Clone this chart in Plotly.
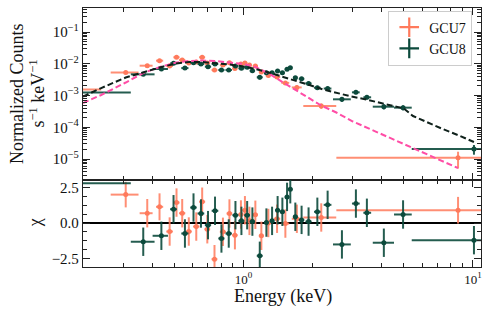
import plotly.graph_objects as go

# ---------------- GCU7 spectrum ----------------
e7 = [0.19, 0.307, 0.381, 0.431, 0.477, 0.511, 0.541, 0.578, 0.623, 0.661, 0.696, 0.748, 0.814,
      0.869, 0.918, 0.975, 1.015, 1.062, 1.127, 1.197, 1.284, 1.401, 1.523, 1.709, 2.183, 8.61]
e7_lo = [0.03, 0.043, 0.028, 0.015, 0.016, 0.016, 0.017, 0.018, 0.02, 0.02, 0.02, 0.022, 0.025,
         0.025, 0.025, 0.025, 0.025, 0.025, 0.03, 0.03, 0.035, 0.045, 0.06, 0.085, 0.36, 6.07]
e7_hi = [0.05, 0.042, 0.021, 0.016, 0.016, 0.016, 0.017, 0.018, 0.02, 0.02, 0.02, 0.022, 0.025,
         0.025, 0.025, 0.025, 0.025, 0.025, 0.03, 0.03, 0.035, 0.045, 0.06, 0.085, 0.354, 4.4]
c7 = [1.55e-3, 5.3e-3, 8.7e-3, 1.25e-2, 8.5e-3, 1.6e-2, 1.31e-2, 1.06e-2, 1.13e-2, 1.6e-2, 1.06e-2,
      6.35e-3, 9.1e-3, 1.08e-2, 7.1e-3, 9.8e-3, 1.06e-2, 9.1e-3, 8.5e-3, 5.5e-3, 4.3e-3, 3.85e-3,
      2.5e-3, 1.8e-3, 4.7e-4, 1.1e-5]
c7_err = [0.25e-3, 0.6e-3, 0.9e-3, 1.2e-3, 1.0e-3, 1.4e-3, 1.3e-3, 1.1e-3, 1.1e-3, 1.5e-3, 1.1e-3,
          0.8e-3, 1.0e-3, 1.1e-3, 0.9e-3, 1.0e-3, 1.1e-3, 1.0e-3, 1.0e-3, 0.7e-3, 0.55e-3, 0.5e-3,
          0.35e-3, 0.3e-3, 0.9e-4, 0.6e-5]
chi7 = [None, 2.0, 0.69, 1.14, -0.6, 1.44, 0.69, -0.6, -0.25, 1.5, -0.44, -2.55, -0.62, 0.67,
        -0.86, 0.6, 0.9, 0.15, 0.58, -0.9, 0.0, 0.3, -0.04, 0.3, 0.39, 0.9]
chi7_err = [0, 0.9, 1.0, 0.95, 1.0, 1.0, 1.0, 1.0, 1.0, 1.0, 1.0, 1.0, 1.0, 1.0,
            1.0, 1.0, 1.0, 1.0, 1.0, 1.0, 1.0, 1.0, 1.0, 1.0, 1.0, 0.94]

# ---------------- GCU8 spectrum ----------------
e8 = [0.185, 0.366, 0.439, 0.496, 0.556, 0.606, 0.653, 0.701, 0.752, 0.802, 0.863, 0.923, 0.980,
      1.038, 1.094, 1.178, 1.259, 1.333, 1.409, 1.478, 1.549, 1.600, 1.683, 1.792, 1.922, 2.099,
      2.327, 2.686, 3.09, 3.45, 4.09, 4.96, 10.1]
e8_lo = [0.035, 0.043, 0.037, 0.017, 0.02, 0.02, 0.022, 0.022, 0.025, 0.025, 0.028, 0.028, 0.03,
         0.03, 0.03, 0.035, 0.03, 0.03, 0.035, 0.035, 0.035, 0.035, 0.04, 0.05, 0.06, 0.07,
         0.09, 0.23, 0.12, 0.12, 0.43, 0.43, 4.69]
e8_hi = [0.138, 0.044, 0.030, 0.017, 0.02, 0.02, 0.022, 0.022, 0.025, 0.025, 0.028, 0.028, 0.03,
         0.03, 0.03, 0.035, 0.03, 0.03, 0.035, 0.035, 0.035, 0.035, 0.04, 0.05, 0.06, 0.07,
         0.09, 0.25, 0.12, 0.15, 0.44, 0.45, 3.0]
c8 = [1.24e-3, 4.65e-3, 6.85e-3, 1.03e-2, 7.3e-3, 1.08e-2, 9.8e-3, 8.1e-3, 9.8e-3, 6.35e-3, 6.35e-3,
      8.5e-3, 7.2e-3, 7.7e-3, 6.0e-3, 3.75e-3, 5.2e-3, 5.2e-3, 5.9e-3, 5.2e-3, 6.7e-3, 7.5e-3,
      3.65e-3, 3.35e-3, 2.4e-3, 1.76e-3, 1.66e-3, 7.6e-4, 1.26e-3, 8.8e-4, 4.45e-4, 4.15e-4, 2.07e-5]
c8_err = [0.15e-3, 0.5e-3, 0.7e-3, 1.0e-3, 0.8e-3, 1.0e-3, 0.95e-3, 0.85e-3, 0.95e-3, 0.75e-3,
          0.75e-3, 0.85e-3, 0.8e-3, 0.8e-3, 0.7e-3, 0.55e-3, 0.6e-3, 0.6e-3, 0.65e-3, 0.6e-3,
          0.7e-3, 0.75e-3, 0.45e-3, 0.4e-3, 0.32e-3, 0.25e-3, 0.22e-3, 1.3e-4, 1.6e-4, 1.3e-4,
          0.8e-4, 0.75e-4, 0.7e-5]
chi8 = [2.8, -1.32, -0.9, 0.97, -0.74, 1.09, 0.67, -0.15, 0.86, -1.09, -0.74, 0.55, 0.15, 0.55,
        0.1, -2.31, 0.03, 0.15, 0.9, 0.79, 1.84, 2.38, 0.44, 0.22, 0.1, 0.79, 1.28, -1.51, 1.37,
        0.72, -1.39, 0.6, -1.21]
chi8_err = [1.0, 1.0, 1.0, 1.0, 1.0, 1.0, 1.0, 1.0, 1.0, 1.0, 1.0, 1.0, 1.0, 1.0,
            1.0, 1.0, 1.0, 1.0, 1.0, 1.0, 1.0, 1.0, 1.0, 1.0, 1.0, 1.0, 1.0, 1.0,
            1.0, 1.0, 1.0, 1.0, 1.0]

# ---------------- best-fit models ----------------
m7_e = [0.2, 0.24, 0.307, 0.366, 0.439, 0.51, 0.58, 0.66, 0.75, 0.87, 1.0, 1.13, 1.29, 1.48, 1.70,
        1.94, 2.18, 2.54, 3.0, 3.6, 4.3, 5.2, 6.3, 7.5, 8.6]
m7_c = [5.81e-4, 1.04e-3, 2.57e-3, 5.12e-3, 8.19e-3, 1.094e-2, 1.222e-2, 1.265e-2, 1.222e-2,
        1.094e-2, 9.82e-3, 7.91e-3, 4.94e-3, 2.66e-3, 1.44e-3, 7.76e-4, 4.84e-4, 2.92e-4, 1.52e-4,
        8.49e-5, 4.75e-5, 2.56e-5, 1.39e-5, 8.05e-6, 5.21e-6]
m8_e = [0.2, 0.24, 0.307, 0.366, 0.439, 0.51, 0.58, 0.66, 0.75, 0.87, 1.0, 1.13, 1.29, 1.48, 1.70,
        1.94, 2.22, 2.54, 2.9, 3.5, 4.3, 5.0, 5.48, 6.0, 7.3, 8.8, 10.1]
m8_c = [9.3e-4, 1.72e-3, 3.69e-3, 5.5e-3, 7.91e-3, 1.018e-2, 1.135e-2, 1.135e-2, 1.057e-2, 9.46e-3,
        8.19e-3, 6.84e-3, 5.3e-3, 3.96e-3, 2.97e-3, 2.14e-3, 1.55e-3, 1.2e-3, 9.64e-4, 7.21e-4,
        5.02e-4, 3.9e-4, 2.26e-4, 1.69e-4, 9.14e-5, 5.3e-5, 3.43e-5]

# ---------------- tick labels ----------------
x_major = [1, 10]
x_major_text = ["10<sup>0</sup>", "10<sup>1</sup>"]
x_minor = [0.2, 0.3, 0.4, 0.5, 0.6, 0.7, 0.8, 0.9, 2, 3, 4, 5, 6, 7, 8, 9]
y_major = [1e-5, 1e-4, 1e-3, 1e-2, 1e-1]
y_major_text = ["10<sup>−5</sup>", "10<sup>−4</sup>", "10<sup>−3</sup>", "10<sup>−2</sup>", "10<sup>−1</sup>"]
y_minor = [m * 10.0 ** k for k in range(-6, 0) for m in range(2, 10)]
r_major = [-2.5, 0.0, 2.5]
r_major_text = ["−2.5", "0.0", "2.5"]
r_minor = [-3.125, -2.5, -1.875, -1.25, -0.625, 0.0, 0.625, 1.25, 1.875, 2.5, 3.125]

FONT = "Liberation Serif"
C7 = "#ff7a5c"
C7E = "rgba(255,122,92,0.85)"
C8 = "#0c4a3c"
C8E = "rgba(12,74,60,0.9)"
PINK = "#ff4da6"
DARK = "#0f211b"

fig = go.Figure()

def add_series(e, lo, hi, c, cerr, chi, chierr, col, colE):
    fig.add_trace(go.Scatter(
        x=e, y=c, mode="markers", showlegend=False,
        marker=dict(color=col, size=5),
        error_x=dict(type="data", array=hi, arrayminus=lo, symmetric=False,
                     color=colE, thickness=2, width=0),
        error_y=dict(type="data", array=cerr, color=colE, thickness=2, width=0),
        xaxis="x", yaxis="y"))
    fig.add_trace(go.Scatter(
        x=e, y=chi, mode="markers", showlegend=False,
        marker=dict(color=col, size=5),
        error_x=dict(type="data", array=hi, arrayminus=lo, symmetric=False,
                     color=colE, thickness=2, width=0),
        error_y=dict(type="data", array=chierr, color=colE, thickness=2, width=0),
        xaxis="x2", yaxis="y2"))

add_series(e7, e7_lo, e7_hi, c7, c7_err, chi7, chi7_err, C7, C7E)
add_series(e8, e8_lo, e8_hi, c8, c8_err, chi8, chi8_err, C8, C8E)

fig.add_trace(go.Scatter(x=m7_e, y=m7_c, mode="lines", showlegend=False,
                         line=dict(color=PINK, width=2, dash="6px,3px"), xaxis="x", yaxis="y"))
fig.add_trace(go.Scatter(x=m8_e, y=m8_c, mode="lines", showlegend=False,
                         line=dict(color=DARK, width=2, dash="6px,3px"), xaxis="x", yaxis="y"))

# legend entries
for name, col in [("GCU7", C7), ("GCU8", C8)]:
    fig.add_trace(go.Scatter(x=[None], y=[None], mode="markers", name=name,
                             marker=dict(symbol="cross-thin", size=14, color=col,
                                         line=dict(color=col, width=2.2)),
                             xaxis="x", yaxis="y"))

TICKC = "#222222"
common_x = dict(type="log", range=[-0.699, 1.035], showline=True, linecolor=TICKC, linewidth=1.3,
                mirror="allticks", ticks="inside", ticklen=7, tickwidth=1.2, tickcolor=TICKC,
                tickmode="array", tickvals=x_major, ticktext=x_major_text, showgrid=False,
                zeroline=False, automargin=False,
                minor=dict(tickmode="array", tickvals=x_minor, ticks="inside", ticklen=4,
                           tickwidth=1, tickcolor=TICKC, showgrid=False))

fig.update_layout(
    width=490, height=313,
    margin=dict(l=83, r=9, t=8, b=46),
    paper_bgcolor="white", plot_bgcolor="white",
    font=dict(family=FONT, color="#111111"),
    xaxis=dict(common_x, anchor="y", showticklabels=False, matches="x2", domain=[0, 1]),
    xaxis2=dict(common_x, anchor="y2", domain=[0, 1],
                tickfont=dict(family=FONT, size=13)),
    yaxis=dict(type="log", range=[-5.66, -0.244], domain=[0.3359, 1], anchor="x",
               showline=True, linecolor=TICKC, linewidth=1.3, mirror="allticks",
               ticks="inside", ticklen=7, tickwidth=1.2, tickcolor=TICKC, automargin=False,
               tickmode="array", tickvals=y_major, ticktext=y_major_text, showgrid=False,
               tickfont=dict(family=FONT, size=15),
               minor=dict(tickmode="array", tickvals=y_minor, ticks="inside", ticklen=4,
                          tickwidth=1, tickcolor=TICKC, showgrid=False)),
    yaxis2=dict(range=[-3.1, 3.03], domain=[0, 0.3359], anchor="x2",
                showline=True, linecolor=TICKC, linewidth=1.3, mirror="allticks",
                ticks="inside", ticklen=7, tickwidth=1.2, tickcolor=TICKC, automargin=False,
                tickmode="array", tickvals=r_major, ticktext=r_major_text, showgrid=False,
                tickfont=dict(family=FONT, size=15),
                zeroline=True, zerolinecolor="black", zerolinewidth=2,
                minor=dict(tickmode="array", tickvals=r_minor, ticks="inside", ticklen=4,
                           tickwidth=1, tickcolor=TICKC, showgrid=False)),
    legend=dict(x=0.978, y=0.99, xanchor="right", yanchor="top",
                bgcolor="rgba(255,255,255,0.85)", bordercolor="#cccccc", borderwidth=1,
                font=dict(family=FONT, size=14), itemwidth=30, tracegroupgap=2),
)

# axis titles
fig.add_annotation(text="Energy (keV)", xref="paper", yref="paper", x=0.5025, y=-0.112,
                   xanchor="center", yanchor="middle", showarrow=False,
                   font=dict(family=FONT, size=18))
fig.add_annotation(text="Normalized Counts", xref="paper", yref="paper", x=-0.166, y=0.668,
                   xanchor="center", yanchor="middle", showarrow=False, textangle=-90,
                   font=dict(family=FONT, size=18))
fig.add_annotation(text="s<sup>−1</sup> keV<sup>−1</sup>", xref="paper", yref="paper",
                   x=-0.114, y=0.668, xanchor="center", yanchor="middle", showarrow=False,
                   textangle=-90, font=dict(family=FONT, size=18))
fig.add_annotation(text="χ", xref="paper", yref="paper", x=-0.12, y=0.17,
                   xanchor="center", yanchor="middle", showarrow=False, textangle=-90,
                   font=dict(family=FONT, size=18))

fig.write_html("out.html", config={"displayModeBar": False},
               post_script="document.body.style.margin='0';document.body.style.overflow='hidden';")
